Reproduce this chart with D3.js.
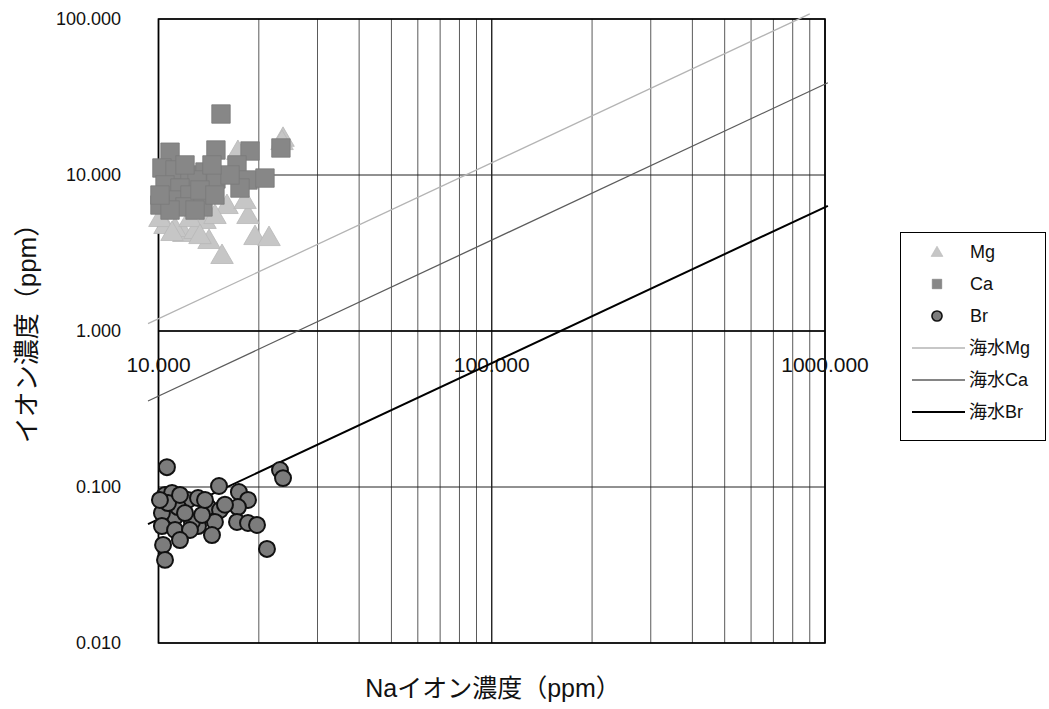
<!DOCTYPE html>
<html>
<head>
<meta charset="utf-8">
<script src="https://cdn.jsdelivr.net/npm/d3@7"></script>
<style>
  html, body { margin: 0; padding: 0; background: #fff; }
  svg { display: block; }
  text { font-family: "Liberation Sans", Arial, "Noto Sans CJK JP", sans-serif; fill: #111; }
</style>
</head>
<body>
<svg id="chart" width="1049" height="709"></svg>
<script>
// Sample Na concentrations (ppm) and measured ions (ppm)
const naMg = [16.05, 18.56, 19.48, 21.46, 14.18, 15.51, 11.92, 10.46, 11.21, 13.79, 12.87, 17.31, 23.64, 10.10, 14.77, 12.43, 18.18, 23.48, 10.98, 13.32];
const mgVals = [6.42, 5.54, 4.06, 4.00, 3.83, 3.07, 4.25, 4.78, 4.57, 5.15, 4.44, 14.25, 17.3, 5.30, 5.54, 5.30, 6.91, 16.5, 4.31, 4.12];

const naCa = [15.40, 10.83, 14.87, 18.82, 23.30, 10.24, 11.21, 12.43, 13.79, 14.87, 13.05, 10.46, 11.60, 10.98, 12.43, 10.10, 12.01, 13.60, 17.20, 18.56, 17.56, 20.87, 16.39, 10.83, 12.01, 13.32, 14.77, 10.10, 14.47, 12.87];
const caVals = [24.6, 14.0, 14.46, 14.25, 14.9, 11.09, 10.77, 10.0, 10.45, 9.43, 9.29, 8.63, 8.25, 6.91, 7.44, 6.42, 6.24, 6.24, 11.6, 9.29, 8.25, 9.56, 10.0, 5.96, 11.6, 8.01, 7.44, 7.44, 11.6, 5.96];

const naBr = [10.60, 15.19, 17.43, 18.56, 17.31, 17.20, 18.56, 19.75, 21.16, 23.15, 23.64, 10.46, 10.98, 12.26, 13.14, 14.08, 15.30, 14.77, 14.47, 13.14, 12.60, 11.21, 10.24, 10.24, 10.32, 10.46, 11.44, 12.01, 13.51, 10.68, 10.10, 11.60, 13.79, 11.21, 12.43, 15.83, 11.60];
const brVals = [0.134, 0.1015, 0.0929, 0.0826, 0.0744, 0.0597, 0.0588, 0.0571, 0.0401, 0.1285, 0.114, 0.0889, 0.0916, 0.0826, 0.0850, 0.0744, 0.0712, 0.0597, 0.0492, 0.0562, 0.0597, 0.0643, 0.0681, 0.0562, 0.0425, 0.0341, 0.0744, 0.0681, 0.0662, 0.0789, 0.0826, 0.0889, 0.0826, 0.053, 0.053, 0.077, 0.0457];

// Seawater composition (ppm) used for the dilution lines
const seawaterNa = 10770;
const seawaterIons = [1290, 412, 67];            // Mg, Ca, Br
const seawaterNaRange = [[9.3, 900], [9.3, 1020], [9.3, 1020]];

const xTicks = [10, 100, 1000];
const yTicks = [0.01, 0.1, 1, 10, 100];
const seriesNames = ["Mg", "Ca", "Br"];
const lineNames = ["海水Mg", "海水Ca", "海水Br"];

const svg = d3.select("#chart");
const plot = { left: 158.5, top: 19, right: 825, bottom: 643 };

const x = d3.scaleLog().domain([10, 1000]).range([plot.left, plot.right]);
const y = d3.scaleLog().domain([0.01, 100]).range([plot.bottom, plot.top]);
const fmt = d3.format(".3f");

// Grid: vertical lines at every 1..9 multiple, horizontal at decades
const vGrid = [];
for (let d = 10; d < 1000; d *= 10) for (let k = 1; k <= 9; k++) vGrid.push(d * k);
vGrid.push(1000);
const isDecade = d => Math.abs(Math.log10(d) % 1) < 1e-9;
const grid = svg.append("g");
grid.selectAll("line.v").data(vGrid).join("line")
  .attr("x1", d => x(d)).attr("x2", d => x(d))
  .attr("y1", plot.top).attr("y2", plot.bottom)
  .attr("stroke", d => (isDecade(d) ? "#111" : "#5a5a5a"))
  .attr("stroke-width", d => (isDecade(d) ? 1.3 : 1));
grid.selectAll("line.h").data(yTicks).join("line")
  .attr("x1", plot.left).attr("x2", plot.right)
  .attr("y1", d => y(d)).attr("y2", d => y(d))
  .attr("stroke", "#222").attr("stroke-width", 1);

// Plot frame
svg.append("rect")
  .attr("x", plot.left).attr("y", plot.top)
  .attr("width", plot.right - plot.left).attr("height", plot.bottom - plot.top)
  .attr("fill", "none").attr("stroke", "#000").attr("stroke-width", 1.6);

// Horizontal axis crosses at y = 1
svg.append("line")
  .attr("x1", plot.left).attr("x2", plot.right)
  .attr("y1", y(1)).attr("y2", y(1))
  .attr("stroke", "#000").attr("stroke-width", 1.4);

// Tick labels
svg.append("g").selectAll("text").data(yTicks).join("text")
  .attr("x", 121).attr("y", d => y(d)).attr("dy", "0.36em")
  .attr("text-anchor", "end").attr("font-size", 18)
  .text(d => fmt(d));
svg.append("g").selectAll("text").data(xTicks).join("text")
  .attr("x", d => x(d)).attr("y", 372)
  .attr("text-anchor", "middle").attr("font-size", 21)
  .text(d => fmt(d));

// Axis titles
svg.append("text")
  .attr("x", 493).attr("y", 697).attr("text-anchor", "middle")
  .attr("font-size", 25).text("Naイオン濃度（ppm）");
svg.append("text")
  .attr("transform", "translate(36,327) rotate(-90)")
  .attr("text-anchor", "middle").attr("font-size", 26)
  .text("イオン濃度（ppm）");

// Seawater dilution lines
const lineStyles = [
  { stroke: "#b4b4b4", width: 1.3 },
  { stroke: "#5c5c5c", width: 1.3 },
  { stroke: "#000", width: 2 }
];
const lineGen = d3.line().x(d => x(d[0])).y(d => y(d[1]));
seawaterIons.forEach((ion, i) => {
  const pts = seawaterNaRange[i].map(na => [na, na * ion / seawaterNa]);
  svg.append("path").datum(pts)
    .attr("d", lineGen).attr("fill", "none")
    .attr("stroke", lineStyles[i].stroke).attr("stroke-width", lineStyles[i].width);
});

// Markers
const triSym = d3.symbol().type(d3.symbolTriangle);
const sqSym = d3.symbol().type(d3.symbolSquare);
const circSym = d3.symbol().type(d3.symbolCircle);

const mgData = naMg.map((n, i) => [n, mgVals[i]]);
const caData = naCa.map((n, i) => [n, caVals[i]]);
const brData = naBr.map((n, i) => [n, brVals[i]]);

svg.append("g").selectAll("path").data(mgData).join("path")
  .attr("transform", d => `translate(${x(d[0])},${y(d[1]) + 2})`)
  .attr("d", triSym.size(220)())
  .attr("fill", "#c6c6c6").attr("stroke", "#b8b8b8").attr("stroke-width", 0.8);

svg.append("g").selectAll("path").data(caData).join("path")
  .attr("transform", d => `translate(${x(d[0])},${y(d[1])})`)
  .attr("d", sqSym.size(340)())
  .attr("fill", "#878787").attr("stroke", "#7a7a7a").attr("stroke-width", 0.8);

svg.append("g").selectAll("path").data(brData).join("path")
  .attr("transform", d => `translate(${x(d[0])},${y(d[1])})`)
  .attr("d", circSym.size(200)())
  .attr("fill", "#7c7c7c").attr("stroke", "#111").attr("stroke-width", 2);

// Legend
const lg = svg.append("g");
lg.append("rect").attr("x", 900.5).attr("y", 232.5).attr("width", 145).attr("height", 208)
  .attr("fill", "#fff").attr("stroke", "#000").attr("stroke-width", 1);
const rowY = i => 252 + i * 32;
const legendSyms = [
  { sym: triSym.size(60)(), fill: "#c6c6c6", stroke: "#b8b8b8", sw: 0.6, dy: 1 },
  { sym: sqSym.size(90)(), fill: "#878787", stroke: "#7a7a7a", sw: 0.6, dy: 0 },
  { sym: circSym.size(80)(), fill: "#7c7c7c", stroke: "#111", sw: 1.6, dy: 0 }
];
seriesNames.forEach((name, i) => {
  lg.append("path")
    .attr("transform", `translate(937,${rowY(i) + legendSyms[i].dy})`)
    .attr("d", legendSyms[i].sym)
    .attr("fill", legendSyms[i].fill).attr("stroke", legendSyms[i].stroke)
    .attr("stroke-width", legendSyms[i].sw);
  lg.append("text").attr("x", 970).attr("y", rowY(i)).attr("dy", "0.36em")
    .attr("font-size", 18).text(name);
});
lineNames.forEach((name, j) => {
  const i = j + 3;
  lg.append("line").attr("x1", 912).attr("x2", 965)
    .attr("y1", rowY(i)).attr("y2", rowY(i))
    .attr("stroke", lineStyles[j].stroke).attr("stroke-width", lineStyles[j].width);
  lg.append("text").attr("x", 969).attr("y", rowY(i)).attr("dy", "0.36em")
    .attr("font-size", 18).text(name);
});
</script>
</body>
</html>
